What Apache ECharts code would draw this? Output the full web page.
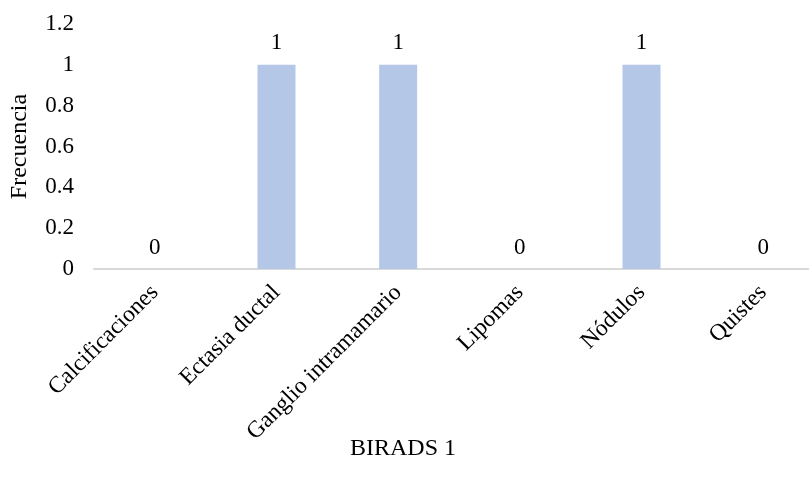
<!DOCTYPE html>
<html><head><meta charset="utf-8">
<script src="https://cdn.jsdelivr.net/npm/echarts@6/dist/echarts.min.js"></script>
<style>html,body{margin:0;padding:0;background:#fff;overflow:hidden}#c{width:824px;height:487px}</style>
</head><body><div id="c"></div>
<script>
const categories = ['Calcificaciones','Ectasia ductal','Ganglio intramamario','Lipomas','Nódulos','Quistes'];
const values = [0,1,1,0,1,0];
const xTitle = 'BIRADS 1';
const yTitle = 'Frecuencia';
const font = '"Liberation Serif","Times New Roman",serif';
const chart = echarts.init(document.getElementById('c'));
chart.setOption({
  animation:false,
  grid:{left:94,right:0,top:24,bottom:218,containLabel:false,outerBoundsMode:'none'},
  xAxis:{type:'category',data:categories,
    axisLine:{lineStyle:{color:'#d9d9d9',width:2}},axisTick:{show:false},
    axisLabel:{rotate:45,interval:0,color:'#000',fontFamily:font,fontSize:23.5,margin:20}},
  yAxis:{type:'value',min:0,max:1.2,interval:0.2,name:yTitle,nameLocation:'middle',nameGap:62,
    nameTextStyle:{color:'#000',fontFamily:font,fontSize:24},
    splitLine:{show:false},axisLine:{show:false},axisTick:{show:false},
    axisLabel:{color:'#000',fontFamily:font,fontSize:23,margin:20,formatter:v=>String(+v.toFixed(1))}},
  graphic:[{type:'text',x:403,y:449,style:{text:xTitle,fill:'#000',font:'24px '+font,align:'center',verticalAlign:'middle'}}],
  series:[{type:'bar',data:values,barWidth:38,itemStyle:{color:'#b4c7e7'},
    label:{show:true,position:'top',distance:10,color:'#000',fontFamily:font,fontSize:23}}]
});
</script></body></html>
